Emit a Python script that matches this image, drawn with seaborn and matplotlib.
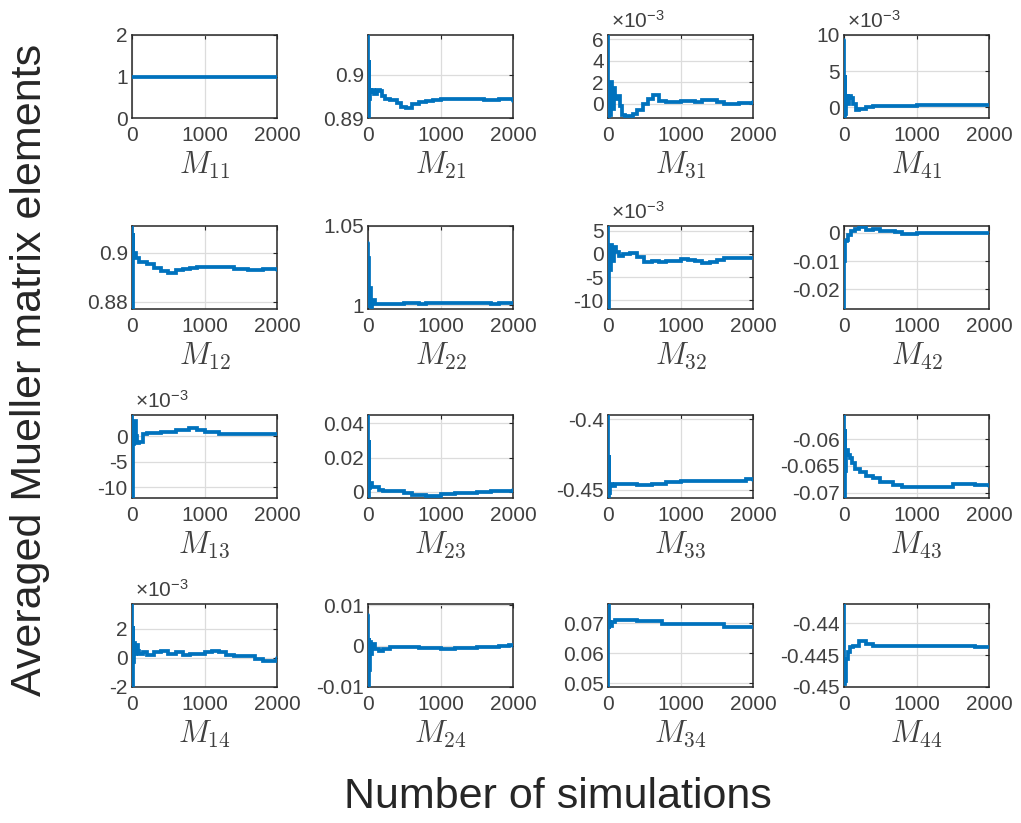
import matplotlib
matplotlib.use("Agg")
import matplotlib.pyplot as plt
import seaborn as sns
import pandas as pd

sns.set_theme(style="white")
plt.rcParams["font.family"] = ["Liberation Sans", "DejaVu Sans"]
plt.rcParams["mathtext.fontset"] = "custom"
plt.rcParams["mathtext.rm"] = "Liberation Sans"
plt.rcParams["mathtext.it"] = "Liberation Sans:italic"

# ---------------- data ----------------
x_M11 = [0, 2000]
y_M11 = [1.0, 1.0]

x_M21 = [0, 3, 8, 15, 25, 40, 60, 80, 120, 170, 190, 230, 300, 400, 450, 520, 600, 700, 800, 900, 1000, 1200, 1400, 1600, 1800, 2000]
y_M21 = [0.9093, 0.8900, 0.9035, 0.8945, 0.8965, 0.8960, 0.8965, 0.8955, 0.8965, 0.8962, 0.8950, 0.8945, 0.8942, 0.8935, 0.8925, 0.8923, 0.8933, 0.8937, 0.8940, 0.8942, 0.8944, 0.8944, 0.8944, 0.8943, 0.8944, 0.8940]

x_M31 = [0, 3, 10, 20, 40, 60, 80, 100, 130, 160, 190, 230, 280, 350, 400, 480, 550, 620, 700, 800, 1000, 1200, 1300, 1500, 1600, 1800, 2000]
y_M31 = [6.3e-3, -1.2e-3, 2.0e-3, -1.0e-3, 2.0e-3, -0.5e-3, 1.5e-3, 0.5e-3, 0.7e-3, -0.2e-3, -1.0e-3, -1.1e-3, -1.1e-3, -0.9e-3, -0.6e-3, 0.0, 0.5e-3, 0.8e-3, 0.3e-3, 0.2e-3, 0.3e-3, 0.2e-3, 0.4e-3, 0.2e-3, 0.0, 0.1e-3, 0.2e-3]

x_M41 = [0, 3, 8, 15, 30, 50, 70, 100, 130, 170, 200, 300, 400, 600, 800, 1000, 1200, 1500, 2000]
y_M41 = [9.3e-3, -1.3e-3, 4.5e-3, -1.0e-3, 1.5e-3, 0.5e-3, 1.5e-3, 1.3e-3, 0.5e-3, -0.4e-3, -0.3e-3, 0.0, 0.1e-3, 0.1e-3, 0.2e-3, 0.3e-3, 0.3e-3, 0.3e-3, 0.3e-3]

x_M12 = [0, 3, 10, 20, 40, 60, 100, 200, 300, 400, 500, 600, 700, 800, 900, 1000, 1200, 1400, 1600, 1800, 2000]
y_M12 = [0.911, 0.877, 0.9081, 0.899, 0.900, 0.898, 0.8963, 0.8955, 0.8940, 0.8925, 0.8917, 0.8930, 0.8935, 0.8938, 0.8942, 0.8943, 0.8942, 0.8935, 0.8930, 0.8932, 0.8930]

x_M22 = [0, 3, 5, 15, 25, 40, 60, 100, 200, 300, 500, 700, 800, 1000, 1500, 1700, 1800, 2000]
y_M22 = [1.0395, 0.998, 1.030, 1.008, 1.0108, 0.999, 1.003, 1.001, 1.0005, 1.001, 1.0015, 1.001, 1.0015, 1.0015, 1.0015, 1.001, 1.0015, 1.0015]

x_M32 = [0, 3, 8, 15, 25, 40, 60, 80, 110, 150, 200, 300, 400, 500, 600, 700, 800, 1000, 1100, 1200, 1300, 1400, 1500, 1600, 1800, 2000]
y_M32 = [6.0e-3, -11.8e-3, -7.0e-3, 1.0e-3, -3.5e-3, 1.8e-3, -1.5e-3, 1.5e-3, 0.5e-3, -0.5e-3, 0.0, 0.2e-3, -0.7e-3, -1.8e-3, -1.6e-3, -1.7e-3, -1.5e-3, -1.2e-3, -1.4e-3, -1.6e-3, -1.9e-3, -1.7e-3, -1.3e-3, -0.8e-3, -0.8e-3, -0.9e-3]

x_M42 = [0, 5, 10, 20, 40, 60, 100, 150, 200, 300, 400, 500, 700, 800, 1000, 1200, 1500, 2000]
y_M42 = [-0.027, -0.010, -0.005, -0.003, -0.0025, -0.0008, 0.0005, 0.0012, 0.0020, 0.0010, 0.0012, 0.0005, 0.0003, -0.0003, 0.0, -0.0001, 0.0, 0.0]

x_M13 = [0, 3, 8, 15, 30, 50, 70, 100, 150, 200, 400, 600, 780, 900, 1000, 1200, 1500, 2000]
y_M13 = [4.0e-3, -12.0e-3, 2.5e-3, -1.5e-3, 3.0e-3, 0.0, -1.4e-3, -1.2e-3, 0.3e-3, 0.5e-3, 0.84e-3, 1.17e-3, 1.62e-3, 1.17e-3, 0.84e-3, 0.3e-3, 0.3e-3, 0.3e-3]

x_M23 = [0, 3, 8, 15, 30, 50, 100, 150, 200, 300, 400, 500, 600, 800, 1000, 1200, 1500, 1700, 2000]
y_M23 = [0.0449, -0.0035, 0.030, 0.002, 0.0049, 0.003, 0.003, 0.001, 0.0005, 0.0002, 0.0005, -0.001, -0.002, -0.0025, -0.0015, -0.0005, -0.0003, 0.0005, 0.001]

x_M33 = [0, 3, 8, 15, 30, 60, 100, 200, 400, 600, 800, 1000, 1400, 1800, 1900, 2000]
y_M33 = [-0.397, -0.455, -0.425, -0.452, -0.446, -0.447, -0.4455, -0.4455, -0.4465, -0.446, -0.4445, -0.4436, -0.4440, -0.4440, -0.4425, -0.4432]

x_M43 = [0, 3, 8, 15, 25, 50, 80, 105, 150, 220, 300, 400, 500, 680, 800, 1000, 1300, 1500, 1800, 2000]
y_M43 = [-0.0555, -0.071, -0.058, -0.066, -0.062, -0.063, -0.0635, -0.0645, -0.0655, -0.0662, -0.0668, -0.0673, -0.068, -0.0686, -0.0689, -0.069, -0.069, -0.0684, -0.0685, -0.0688]

x_M14 = [0, 3, 8, 15, 25, 40, 60, 80, 100, 150, 200, 300, 400, 500, 600, 700, 800, 1000, 1100, 1200, 1300, 1400, 1600, 1700, 1800, 1900, 2000]
y_M14 = [3.7e-3, -2.0e-3, 2.2e-3, -0.3e-3, 1.0e-3, 0.3e-3, 0.9e-3, 0.5e-3, 0.3e-3, 0.4e-3, 0.2e-3, 0.4e-3, 0.5e-3, 0.3e-3, 0.4e-3, 0.2e-3, 0.3e-3, 0.4e-3, 0.5e-3, 0.4e-3, 0.2e-3, 0.1e-3, 0.1e-3, -0.1e-3, -0.2e-3, -0.2e-3, 0.0]

x_M24 = [0, 3, 8, 15, 25, 40, 60, 100, 150, 200, 300, 500, 700, 1000, 1200, 1500, 1800, 1950, 2000]
y_M24 = [0.0076, -0.0098, 0.002, -0.006, 0.001, -0.002, 0.0005, -0.0008, -0.0012, -0.0008, -0.0003, -0.0002, -0.0005, -0.0008, -0.0005, -0.0002, 0.0, 0.0003, 0.0]

x_M34 = [0, 3, 8, 15, 30, 60, 100, 300, 400, 700, 750, 1000, 1500, 1600, 2000]
y_M34 = [0.0488, 0.0764, 0.068, 0.0705, 0.069, 0.0705, 0.0711, 0.0711, 0.0706, 0.0706, 0.0697, 0.0697, 0.0697, 0.0687, 0.0687]

x_M44 = [0, 3, 20, 30, 50, 80, 120, 200, 300, 400, 600, 1000, 1500, 1800, 2000]
y_M44 = [-0.437, -0.4495, -0.449, -0.4456, -0.4445, -0.4438, -0.4435, -0.4428, -0.4433, -0.4436, -0.4435, -0.4436, -0.4436, -0.4437, -0.4437]

x_ticks = [0, 1000, 2000]

# y ticks per panel (values as displayed)
yt_M11 = [0, 1, 2];            yt_M21 = [0.89, 0.9]
yt_M31 = [0, 2, 4, 6];         yt_M41 = [0, 5, 10]
yt_M12 = [0.88, 0.9];          yt_M22 = [1, 1.05]
yt_M32 = [-10, -5, 0, 5];      yt_M42 = [-0.02, -0.01, 0]
yt_M13 = [-10, -5, 0];         yt_M23 = [0, 0.02, 0.04]
yt_M33 = [-0.45, -0.4];        yt_M43 = [-0.07, -0.065, -0.06]
yt_M14 = [-2, 0, 2];           yt_M24 = [-0.01, 0, 0.01]
yt_M34 = [0.05, 0.06, 0.07];   yt_M44 = [-0.45, -0.445, -0.44]

# (name, x, y, ylim (displayed units), yticks, scale)
panels = [
    [("11", x_M11, y_M11, (0, 2), yt_M11, 1), ("21", x_M21, y_M21, (0.89, 0.9093), yt_M21, 1),
     ("31", x_M31, y_M31, (-1.3, 6.4), yt_M31, 1e3), ("41", x_M41, y_M41, (-1.5, 10), yt_M41, 1e3)],
    [("12", x_M12, y_M12, (0.877, 0.911), yt_M12, 1), ("22", x_M22, y_M22, (0.9976, 1.05), yt_M22, 1),
     ("32", x_M32, y_M32, (-11.9, 6.0), yt_M32, 1e3), ("42", x_M42, y_M42, (-0.027, 0.0024), yt_M42, 1)],
    [("13", x_M13, y_M13, (-12.1, 4.1), yt_M13, 1e3), ("23", x_M23, y_M23, (-0.0037, 0.0449), yt_M23, 1),
     ("33", x_M33, y_M33, (-0.4557, -0.397), yt_M33, 1), ("43", x_M43, y_M43, (-0.071, -0.05545), yt_M43, 1)],
    [("14", x_M14, y_M14, (-2.0, 3.7), yt_M14, 1e3), ("24", x_M24, y_M24, (-0.0101, 0.0103), yt_M24, 1),
     ("34", x_M34, y_M34, (0.0488, 0.0764), yt_M34, 1), ("44", x_M44, y_M44, (-0.4498, -0.437), yt_M44, 1)],
]

W, H = 1021, 823
fig = plt.figure(figsize=(W / 100, H / 100), dpi=100)

lefts = [132, 368, 608, 844]
tops = [35, 226, 415, 604]
aw, ah = 145, 83

blue = "#0072BD"
dark = "#262626"

for r, row in enumerate(panels):
    for c, (name, xs, ys, ylim, yt, scale) in enumerate(row):
        ax = fig.add_axes([lefts[c] / W, 1 - (tops[r] + ah) / H, aw / W, ah / H])
        df = pd.DataFrame({"n": xs, "v": [v * scale for v in ys]})
        sns.lineplot(data=df, x="n", y="v", ax=ax, color=blue, lw=2.7,
                     sort=False, estimator=None, drawstyle="steps-post",
                     solid_joinstyle="miter", zorder=4)
        ax.set_xlim(0, 2000)
        ax.set_ylim(*ylim)
        ax.set_xticks(x_ticks)
        ax.set_xticklabels([str(t) for t in x_ticks])
        ax.set_yticks(yt)
        ax.set_yticklabels(["{:g}".format(t) for t in yt])
        ax.grid(True, color="#dcdcdc", lw=0.9)
        ax.set_axisbelow(True)
        ax.tick_params(direction="in", length=3, width=0.8, top=True, right=True,
                       labelsize=15, labelcolor="#404040", colors=dark)
        ax.tick_params(axis="x", pad=6)
        ax.tick_params(axis="y", pad=3)
        for s in ax.spines.values():
            s.set_color(dark)
            s.set_linewidth(1.1)
            s.set_zorder(3)
        ax.set_ylabel("")
        ax.set_xlabel(r"$M_{%s}$" % name, fontsize=22, color="#404040",
                      math_fontfamily="cm", labelpad=3)
        if scale != 1:
            ax.annotate(r"$\times\mathregular{10^{-3}}$", xy=(0, 1), xycoords="axes fraction",
                        xytext=(2, 5.5), textcoords="offset points",
                        ha="left", va="baseline", fontsize=15, color="#404040")

fig.text(30 / W, 1 - 370 / H, "Averaged Mueller matrix elements", rotation=90,
         ha="center", va="center", fontsize=31, color="#262626")
fig.text(558 / W, 1 - 797 / H, "Number of simulations", ha="center", va="center",
         fontsize=31, color="#262626")

fig.savefig("out.png", dpi=100)
